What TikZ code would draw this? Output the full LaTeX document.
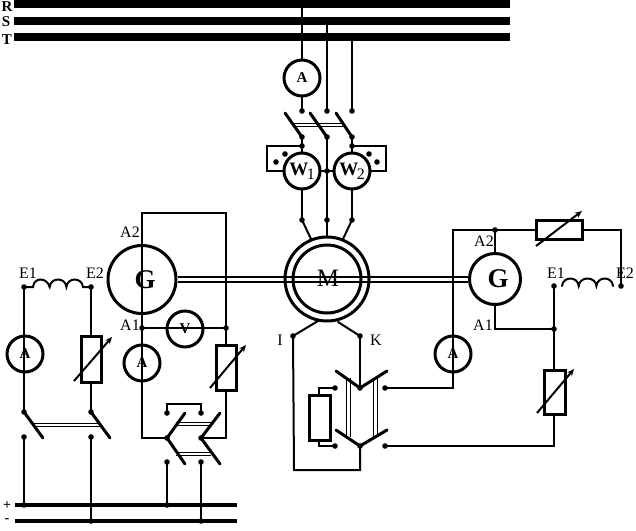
\documentclass[tikz,border=0pt]{standalone}
\usepackage{fontspec}
\setmainfont{Liberation Serif}
\newcommand{\fs}[1]{\fontsize{#1}{#1}\selectfont}
\newcommand{\wlab}[1]{\fs{19}\bfseries W\kern-1.5pt\raisebox{-4pt}{\fs{16}\mdseries #1}}
\tikzset{
  x=1pt,y=-1pt,
  wire/.style={line width=2pt,line cap=round,line join=miter},
  heavy/.style={line width=3pt,line cap=round},
  meter/.style={circle,draw,line width=3pt,minimum size=36pt,inner sep=0pt,font=\fs{15}\bfseries},
  label/.style={inner sep=0pt,font=\fs{16}},
  busl/.style={inner sep=0pt,font=\fs{15}\bfseries},
  res/.style={draw,line width=3pt,minimum size=0pt,inner sep=0pt},
  tie/.style={line width=1pt},
  jn/.style={circle,fill=black,inner sep=0pt,minimum size=5.6pt},
  adj/.style={line width=2pt,-{Stealth[length=7pt,width=6pt]}},
}
\usetikzlibrary{arrows.meta}
\begin{document}
\begin{tikzpicture}
\useasboundingbox (0,0) rectangle (636,530);
% three-phase bars
\coordinate (Ra) at (14,4); \coordinate (Rb) at (510,4);
\coordinate (Sa) at (14,21); \coordinate (Sb) at (510,21);
\coordinate (Ta) at (14,37); \coordinate (Tb) at (510,37);
\draw[line width=8pt] (Ra)--(Rb); \draw[line width=8pt] (Sa)--(Sb); \draw[line width=8pt] (Ta)--(Tb);
\node[busl] (lR) at (7,6.5) {R}; \node[busl] (lS) at (6,22) {S}; \node[busl] (lT) at (7,40) {T};
\coordinate (pR) at (302,0); \coordinate (pS) at (327,21); \coordinate (pT) at (352,37);
% DC bars
\coordinate (Pa) at (15,505); \coordinate (Pb) at (237,505);
\coordinate (Na) at (15,521); \coordinate (Nb) at (237,521);
\draw[line width=3.4pt] (Pa)--(Pb); \draw[line width=3.4pt] (Na)--(Nb);
\node[inner sep=0pt,font=\fs{14}\bfseries] (lP) at (7,505.5) {+}; \node[inner sep=0pt,font=\fs{14}\bfseries] (lN) at (7,520.5) {-};
% meters and machines
\node[meter] (A0) at (302,78) {A};
\node[meter] (W1) at (302,171) {};
\node[meter] (W2) at (352,171) {};
\node (tW1) at (W1) {\wlab{1}}; \node (tW2) at (W2) {\wlab{2}};
\node[circle,draw,line width=3pt,minimum size=84pt,inner sep=0pt] (Mo) at (327,279) {};
\node[circle,draw,line width=3pt,minimum size=68pt,inner sep=0pt] (Mi) at (327,279) {};
\node[circle,draw,line width=3pt,minimum size=68pt,inner sep=0pt] (GL) at (142,279.5) {};
\node[circle,draw,line width=3pt,minimum size=51pt,inner sep=0pt] (GR) at (495,279) {};
\node[meter] (AL) at (25,354) {A};
\node[meter] (AG) at (142,363) {A};
\node[meter] (V) at (185,329) {V};
\node[meter] (AR) at (453,354) {A};
% junctions
\foreach \n/\x/\y in {t1/302/111,t2/327/111,t3/352/111,
  u1/302/137,u2/327/137,u3/352/137,
  c1/302/146,c3/352/146,d1/285/154,d2/276/162,d3/369/154,d4/377/162,m2/327/171,
  b1/302/220,b2/327/220,b3/352/220,
  E1L/24/287,E2L/91/287,s1/24/412,s2/91/412,r1/24/437,r2/91/437,
  P1/24/505,N1/91/521,A1L/142/328,VR/226/328,
  k1/167/438,k2/201/438,q1/167/413,q2/201/413,z1/167/462,z2/201/462,P2/167/505,N2/201/521,
  I/293/336,K/360/336,n1/360/388,n2/360/446,
  h1/335/388,h2/335/446,g1/385/388,g2/385/446,
  A2R/495/230,E2R/621/286,E1R/554/286,A1R/554/329}
  \node[jn] (\n) at (\x,\y) {};
% corners
\foreach \n/\x/\y in {wl1/267/146,wl2/267/171,wl3/386/146,wl4/386/171,
  mb1/311/239,mb3/343/239,
  TL/142/213,TR/226/213,kL/142/438,kR/226/438,
  br1/167/404,br2/201/404,
  i1/318/321,k3/338/322,boxb1/294/470,boxb2/360/470,
  rc1/319/388,rc2/319/446,
  up/453/388,upt/453/230,rtc/621/230,
  A1c/495/329,retc/554/446,
  bl1/336/371,bl2/387/371,bl3/336/430,bl4/387/430,
  sw1/285/113,sw2/310/113,sw3/336/113,
  swl1/43/438,swl2/110/438,
  y1/185/413,y2/220/413,y3/185/464,y4/220/464,
  coilLa/33/287,coilLb/83/287,coilRa/562/286,coilRb/613/286}
  \coordinate (\n) at (\x,\y);
% wires
\begin{scope}[wire]
\draw (pR)--(A0.north); \draw (A0.south)--(t1.center);
\draw (pS)--(t2.center); \draw (pT)--(t3.center);
\draw (u1.center)--(W1.north); \draw (u3.center)--(W2.north);
\draw (u2.center)--(b2.center);
\draw (W1.east)--(W2.west);
\draw (c1.center)--(wl1)--(wl2)--(W1.west);
\draw (c3.center)--(wl3)--(wl4)--(W2.east);
\draw (W1.south)--(b1.center); \draw (W2.south)--(b3.center);
\draw (b1.center)--(mb1); \draw (b3.center)--(mb3); \draw (b2.center)--(Mo.north);
% left field
\draw (E1L.center)--(s1.center); \draw (E2L.center)--(s2.center);
\draw (r1.center)--(P1.center); \draw (r2.center)--(N1.center);
\draw (E1L.center)--(coilLa) .. controls +(1,-10) and +(-3,-10) .. (49.7,287) .. controls +(1,-10) and +(-1,-10) .. (66.4,287) .. controls +(1,-10) and +(-1,-10) .. (coilLb)--(E2L.center);
% left generator armature
\draw (kL)--(TL)--(TR)--(kR);
\draw (kL)--(k1.center); \draw (kR)--(k2.center);
\draw (A1L.center)--(VR.center);
\draw (q1.center)--(br1)--(br2)--(q2.center);
\draw (z1.center)--(P2.center); \draw (z2.center)--(N2.center);
% motor excitation
\draw (I.center)--(i1); \draw (K.center)--(k3);
\draw (I.center)--(boxb1)--(boxb2)--(n2.center);
\draw (K.center)--(n1.center);
\draw (h1.center)--(rc1)--(rc2)--(h2.center);
% right generator
\draw (g1.center)--(up)--(upt)--(rtc)--(E2R.center);
\draw (A2R.center)--(GR.north);
\draw (GR.south)--(A1c)--(A1R.center);
\draw (E1R.center)--(retc)--(g2.center);
\draw (coilRa) .. controls +(1,-10) and +(-1,-10) .. (578.7,286) .. controls +(1,-10) and +(-1,-10) .. (596.4,286) .. controls +(1,-10) and +(-1,-10) .. (coilRb);
\end{scope}
% shafts
\draw[line width=1.6pt] (GL.east |- 0,277)--(GR.west |- 0,277);
\draw[line width=1.6pt] (GL.east |- 0,282)--(GR.west |- 0,282);
% switches
\begin{scope}[heavy]
\draw (sw1)--(u1.center); \draw (sw2)--(u2.center); \draw (sw3)--(u3.center);
\draw (s1.center)--(swl1); \draw (s2.center)--(swl2);
\draw (y1)--(k1.center)--(y3); \draw (y2)--(k2.center)--(y4);
\draw (bl1)--(n1.center)--(bl2); \draw (bl3)--(n2.center)--(bl4);
\end{scope}
% ties
\begin{scope}[tie]
\coordinate (ta1) at (293,123); \coordinate (ta2) at (343,123);
\coordinate (tb1) at (293,126); \coordinate (tb2) at (343,126);
\draw (ta1)--(ta2); \draw (tb1)--(tb2);
\coordinate (tc1) at (34,423.5); \coordinate (tc2) at (100,423.5);
\coordinate (td1) at (34,426.5); \coordinate (td2) at (100,426.5);
\draw (tc1)--(tc2); \draw (td1)--(td2);
\coordinate (te1) at (176,422); \coordinate (te2) at (211,422);
\coordinate (tf1) at (176,425); \coordinate (tf2) at (211,425);
\draw (te1)--(te2); \draw (tf1)--(tf2);
\coordinate (tg1) at (176,452); \coordinate (tg2) at (211,452);
\coordinate (th1) at (176,455); \coordinate (th2) at (211,455);
\draw (tg1)--(tg2); \draw (th1)--(th2);
\foreach \x in {346,350,373,377}{\draw (\x,378)--(\x,437);}
\end{scope}
% resistors (white fill hides the wire behind)
\node[res,fill=white,minimum width=20pt,minimum height=46pt] (RL) at (91.5,359) {};
\node[res,fill=white,minimum width=20pt,minimum height=45pt] (RG) at (226.5,367.5) {};
\node[res,fill=white,minimum width=21pt,minimum height=45pt] (RK) at (319.5,417.5) {};
\node[res,fill=white,minimum width=46pt,minimum height=19pt] (RT) at (559,229.5) {};
\node[res,fill=white,minimum width=21pt,minimum height=44pt] (RE) at (554.5,392) {};
\coordinate (aL1) at (74,381); \coordinate (aL2) at (112,337);
\coordinate (aG1) at (210,388); \coordinate (aG2) at (246,345);
\coordinate (aT1) at (536,246); \coordinate (aT2) at (582,211);
\coordinate (aE1) at (537,413); \coordinate (aE2) at (574,369);
\draw[adj] (aL1)--(aL2); \draw[adj] (aG1)--(aG2); \draw[adj] (aT1)--(aT2); \draw[adj] (aE1)--(aE2);
% texts
\node[inner sep=0pt,font=\fs{27}\bfseries] (tG1) at (145,280) {G};
\node[inner sep=0pt,font=\fs{27}\bfseries] (tG2) at (498,279) {G};
\node[inner sep=0pt,font=\fs{25}] (tM) at (328,278) {M};
\node[label] (tE1L) at (28,273) {E1}; \node[label] (tE2L) at (95,273) {E2};
\node[label] (tA2L) at (130,232) {A2}; \node[label] (tA1L) at (130,325) {A1};
\node[label] (tI) at (280,340) {I}; \node[label] (tK) at (376,340) {K};
\node[label] (tA2R) at (484,241) {A2}; \node[label] (tA1R) at (483,325) {A1};
\node[label] (tE1R) at (556,273) {E1}; \node[label] (tE2R) at (625,273) {E2};
\end{tikzpicture}
\end{document}
